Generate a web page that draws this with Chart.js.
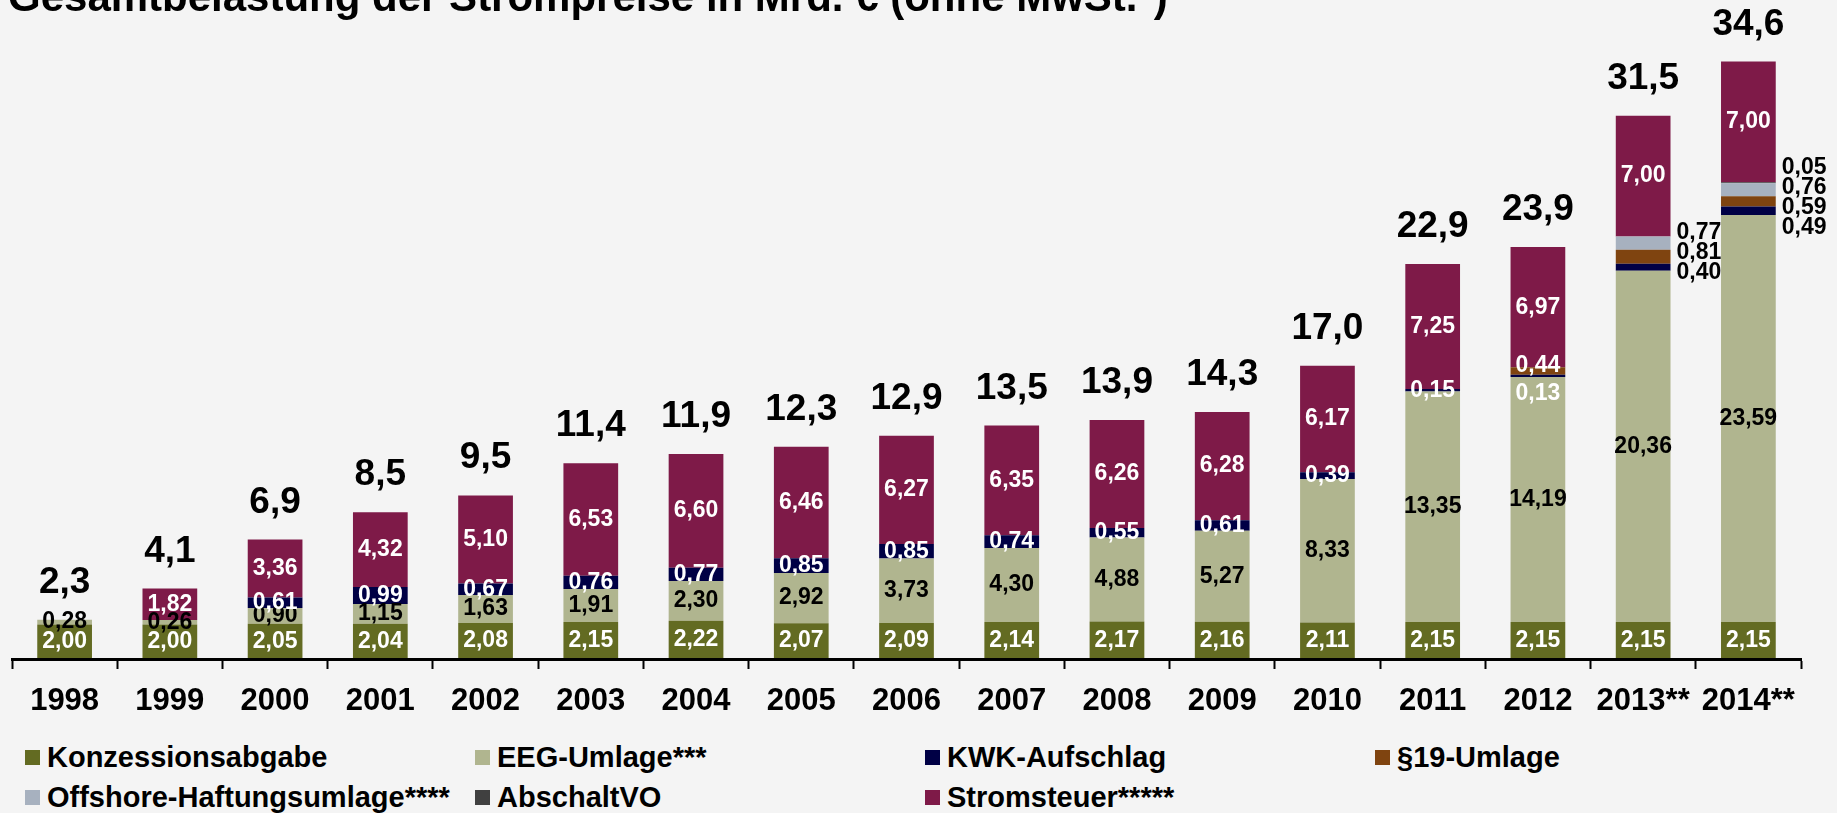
<!DOCTYPE html>
<html lang="de">
<head>
<meta charset="utf-8">
<title>Gesamtbelastung der Strompreise</title>
<script src="https://cdn.jsdelivr.net/npm/chart.js@4.4.1/dist/chart.umd.min.js"></script>
<style>
  html, body { margin: 0; padding: 0; background: #f4f4f4; }
  body { width: 1837px; height: 813px; overflow: hidden; position: relative;
         font-family: Arial, "Liberation Sans", sans-serif; }
  #wrap { position: absolute; left: 0; top: 0; width: 1837px; height: 720px; }
  #legend { position: absolute; left: 25px; top: 738px; display: grid;
            grid-template-columns: repeat(4, 450px); }
  .item { display: flex; align-items: center; height: 39.5px; font-weight: bold;
          font-size: 29px; color: #000; white-space: nowrap; }
  .box { width: 15px; height: 15px; margin-right: 7px; flex: none; }
</style>
</head>
<body>
<div id="wrap"><canvas id="chart" width="1837" height="720"></canvas></div>
<div id="legend"></div>
<script>
// Werte in Mrd. Euro
const years = ['1998', '1999', '2000', '2001', '2002', '2003', '2004', '2005', '2006',
               '2007', '2008', '2009', '2010', '2011', '2012', '2013**', '2014**'];
const konzessionsabgabe = [2.00, 2.00, 2.05, 2.04, 2.08, 2.15, 2.22, 2.07, 2.09,
                           2.14, 2.17, 2.16, 2.11, 2.15, 2.15, 2.15, 2.15];
const eegUmlage = [0.28, 0.26, 0.90, 1.15, 1.63, 1.91, 2.30, 2.92, 3.73,
                   4.30, 4.88, 5.27, 8.33, 13.35, 14.19, 20.36, 23.59];
const kwkAufschlag = [null, null, 0.61, 0.99, 0.67, 0.76, 0.77, 0.85, 0.85,
                      0.74, 0.55, 0.61, 0.39, 0.15, 0.13, 0.40, 0.49];
const umlage19 = [null, null, null, null, null, null, null, null, null,
                  null, null, null, null, null, 0.44, 0.81, 0.59];
const offshoreUmlage = [null, null, null, null, null, null, null, null, null,
                        null, null, null, null, null, null, 0.77, 0.76];
const abschaltVO = [null, null, null, null, null, null, null, null, null,
                    null, null, null, null, null, null, null, 0.05];
const stromsteuer = [null, 1.82, 3.36, 4.32, 5.10, 6.53, 6.60, 6.46, 6.27,
                     6.35, 6.26, 6.28, 6.17, 7.25, 6.97, 7.00, 7.00];
const totals = [2.3, 4.1, 6.9, 8.5, 9.5, 11.4, 11.9, 12.3, 12.9,
                13.5, 13.9, 14.3, 17.0, 22.9, 23.9, 31.5, 34.6];

const FONT = 'Arial, "Liberation Sans", sans-serif';
const fmt = (v, d) => v.toFixed(d).replace('.', ',');

// label colour per dataset (inside the bars)
const labelColors = ['#fff', '#000', '#fff', '#fff', '#000', '#000', '#fff'];
// years whose thin segments (KWK .. AbschaltVO) are labelled right of the bar
const outsideYears = [15, 16];
const outsideSets = [2, 3, 4, 5];
// small manual shifts where labels would collide (index -> dataset -> px)
const nudges = { 14: { 2: 18, 3: -5 } };

const labelPlugin = {
    id: 'segmentLabels',
    afterDatasetsDraw(chart) {
        const ctx = chart.ctx;
        const yScale = chart.scales.y;
        ctx.save();

        // title (cut off at the top like the original)
        ctx.fillStyle = '#000';
        ctx.font = 'bold 42px ' + FONT;
        ctx.textAlign = 'left';
        ctx.textBaseline = 'alphabetic';
        ctx.fillText('Gesamtbelastung der Strompreise in Mrd. € (ohne MwSt.*)', 8, 11);

        ctx.font = 'bold 23px ' + FONT;
        ctx.textAlign = 'center';
        ctx.textBaseline = 'middle';
        chart.data.datasets.forEach((ds, di) => {
            const meta = chart.getDatasetMeta(di);
            meta.data.forEach((bar, i) => {
                const v = ds.data[i];
                if (v == null) return;
                if (outsideYears.includes(i) && outsideSets.includes(di)) return;
                const shift = (nudges[i] && nudges[i][di]) || 0;
                ctx.fillStyle = labelColors[di];
                ctx.fillText(fmt(v, 2), bar.x, (bar.y + bar.base) / 2 + shift);
            });
        });

        // labels right of the bar, spread evenly around the thin segments
        ctx.textAlign = 'left';
        ctx.fillStyle = '#000';
        outsideYears.forEach(i => {
            const sets = outsideSets.filter(di => chart.data.datasets[di].data[i] != null);
            if (!sets.length) return;
            const first = chart.getDatasetMeta(sets[0]).data[i];
            const last = chart.getDatasetMeta(sets[sets.length - 1]).data[i];
            const mid = (first.base + last.y) / 2 - 1;
            const step = 20;
            sets.forEach((di, k) => {
                const bar = chart.getDatasetMeta(di).data[i];
                const y = mid + ((sets.length - 1) / 2 - k) * step;
                ctx.fillText(fmt(chart.data.datasets[di].data[i], 2), bar.x + bar.width / 2 + 6, y);
            });
        });

        // totals above the bars
        ctx.font = 'bold 37px ' + FONT;
        ctx.textAlign = 'center';
        ctx.textBaseline = 'alphabetic';
        const xMeta = chart.getDatasetMeta(0).data;
        totals.forEach((t, i) => {
            let sum = 0;
            chart.data.datasets.forEach(ds => { sum += ds.data[i] || 0; });
            const top = yScale.getPixelForValue(sum);
            ctx.fillText(fmt(t, 1), xMeta[i].x, top - 27);
        });
        ctx.restore();
    }
};

const series = [
    { label: 'Konzessionsabgabe', data: konzessionsabgabe, color: '#636b22' },
    { label: 'EEG-Umlage***', data: eegUmlage, color: '#b0b58f' },
    { label: 'KWK-Aufschlag', data: kwkAufschlag, color: '#000045' },
    { label: '§19-Umlage', data: umlage19, color: '#7f4410' },
    { label: 'Offshore-Haftungsumlage****', data: offshoreUmlage, color: '#a7b1bf' },
    { label: 'AbschaltVO', data: abschaltVO, color: '#404040' },
    { label: 'Stromsteuer*****', data: stromsteuer, color: '#7e1a48' }
];

const chart = new Chart(document.getElementById('chart').getContext('2d'), {
    type: 'bar',
    data: {
        labels: years,
        datasets: series.map(s => ({
            label: s.label,
            data: s.data,
            backgroundColor: s.color,
            borderWidth: 0,
            barPercentage: 0.52,
            categoryPercentage: 1.0
        }))
    },
    options: {
        responsive: false,
        animation: false,
        layout: { padding: { left: 12, right: 36, top: 0, bottom: 0 } },
        plugins: {
            legend: { display: false },
            tooltip: { enabled: false }
        },
        scales: {
            x: {
                stacked: true,
                grid: {
                    display: true,
                    drawOnChartArea: false,
                    drawTicks: true,
                    tickLength: 10,
                    tickWidth: 2,
                    tickColor: '#000',
                    offset: true
                },
                border: { display: true, color: '#000', width: 3, z: 1 },
                ticks: {
                    color: '#000',
                    font: { family: FONT, size: 31, weight: 'bold' },
                    padding: 14,
                    maxRotation: 0,
                    autoSkip: false
                },
                afterFit: (scale) => { scale.height = 61; }
            },
            y: {
                stacked: true,
                display: false,
                min: 0,
                max: 38.2
            }
        }
    },
    plugins: [labelPlugin]
});

// legend built from the datasets
const legend = document.getElementById('legend');
chart.data.datasets.forEach(ds => {
    const item = document.createElement('div');
    item.className = 'item';
    const box = document.createElement('span');
    box.className = 'box';
    box.style.background = ds.backgroundColor;
    item.appendChild(box);
    item.appendChild(document.createTextNode(ds.label));
    legend.appendChild(item);
});
</script>
</body>
</html>
